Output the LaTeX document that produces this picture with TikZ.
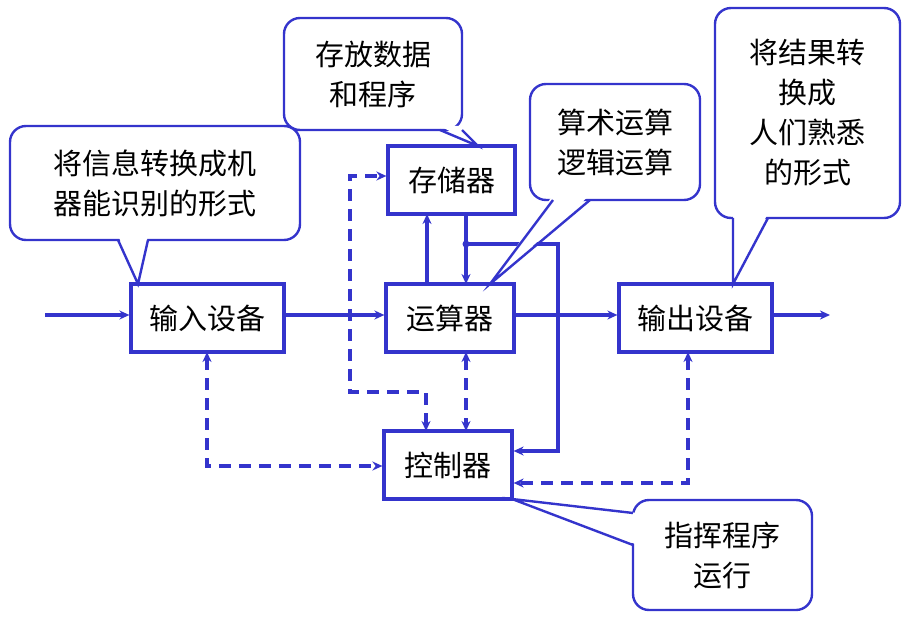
\documentclass[tikz,border=0pt]{standalone}
\usepackage{fontspec}
\setmainfont{Noto Sans CJK SC}
\usetikzlibrary{arrows.meta}
\definecolor{lineblue}{RGB}{52,52,204}

\begin{document}
\begin{tikzpicture}[x=1pt,y=-1pt,>={Stealth[length=10pt,width=9pt]},line width=3.2pt,
    unit/.style={draw=lineblue,rectangle,inner sep=0pt,font=\fontsize{29}{34}\selectfont},
    note/.style={draw=lineblue,rounded corners=16pt,line width=2.4pt,fill=white,align=center,inner sep=0pt,font=\fontsize{29}{40}\selectfont},
    flow/.style={draw=lineblue,->},
    ctrl/.style={draw=lineblue,dashed,dash pattern=on 12pt off 8pt,<->}]
  \useasboundingbox (0,0) rectangle (904,620);

  % units
  \node[unit,minimum width=153pt,minimum height=68pt] (in) at (207.5,318) {输入设备};
  \node[unit,minimum width=127pt,minimum height=68pt] (mem) at (451.5,180) {存储器};
  \node[unit,minimum width=128pt,minimum height=68pt] (alu) at (450,318) {运算器};
  \node[unit,minimum width=128pt,minimum height=68pt] (cu) at (448,465) {控制器};
  \node[unit,minimum width=153pt,minimum height=68pt] (out) at (695.5,318) {输出设备};
  \coordinate (src) at (45,315);
  \coordinate (snk) at (830,315);
  \coordinate (tap) at (466,244);

  % data flow
  \draw[flow] (src) -- (in.west |- src);
  \draw[flow] (in.east |- src) -- (alu.west |- src);
  \draw[flow] (alu.east |- src) -- (out.west |- src);
  \draw[flow] (out.east |- src) -- (snk);
  \draw[flow] (427,284) -- (427,214);
  \draw[flow] (466,214) -- (466,284);
  \fill[lineblue] (tap) circle (3.5pt);
  \draw[flow] (tap) -- (558,244) -- (558,451) -- (cu.east |- 0,451);

  % control
  \draw[ctrl] (426,431) -- (426,392) -- (350,392) -- (350,176) -- (mem.west |- 0,176);
  \draw[ctrl] (466,352) -- (466,431);
  \draw[ctrl] (207,352) -- (207,466) -- (cu.west |- 0,466);
  \draw[ctrl] (688,352) -- (688,483) -- (cu.east |- 0,483);

  % notes
  \node[note,minimum width=178pt,minimum height=112pt] (n1) at (373,74) {存放数据\\和程序};
  \node[note,minimum width=290pt,minimum height=114pt] (n2) at (155,183) {将信息转换成机\\器能识别的形式};
  \node[note,minimum width=170pt,minimum height=116pt] (n3) at (615,142) {算术运算\\逻辑运算};
  \node[note,minimum width=185pt,minimum height=210pt] (n4) at (807.5,113) {将结果转\\换成\\人们熟悉\\的形式};
  \node[note,minimum width=179pt,minimum height=110pt] (n5) at (722.5,555) {指挥程序\\运行};

  % pointers
  \begin{scope}[line width=2.4pt]
    \fill[white] (440,126) -- (478,146) -- (462,126) -- cycle;
    \draw[lineblue] (440,130) -- (478,146) -- (462,130);
    \fill[white] (118,235) -- (138,284) -- (148,235) -- cycle;
    \draw[lineblue] (118,240) -- (138,284) -- (148,240);
    \fill[white] (553,195) -- (490,284) -- (590,195) -- cycle;
    \draw[lineblue] (553,200) -- (490,284) -- (590,200);
    \fill[white] (733,213) -- (733,284) -- (768,213) -- cycle;
    \draw[lineblue] (733,218) -- (733,284) -- (768,218);
    \fill[white] (638,513) -- (512,499) -- (638,545) -- cycle;
    \draw[lineblue] (633,513) -- (512,499) -- (633,545);
  \end{scope}
\end{tikzpicture}
\end{document}
